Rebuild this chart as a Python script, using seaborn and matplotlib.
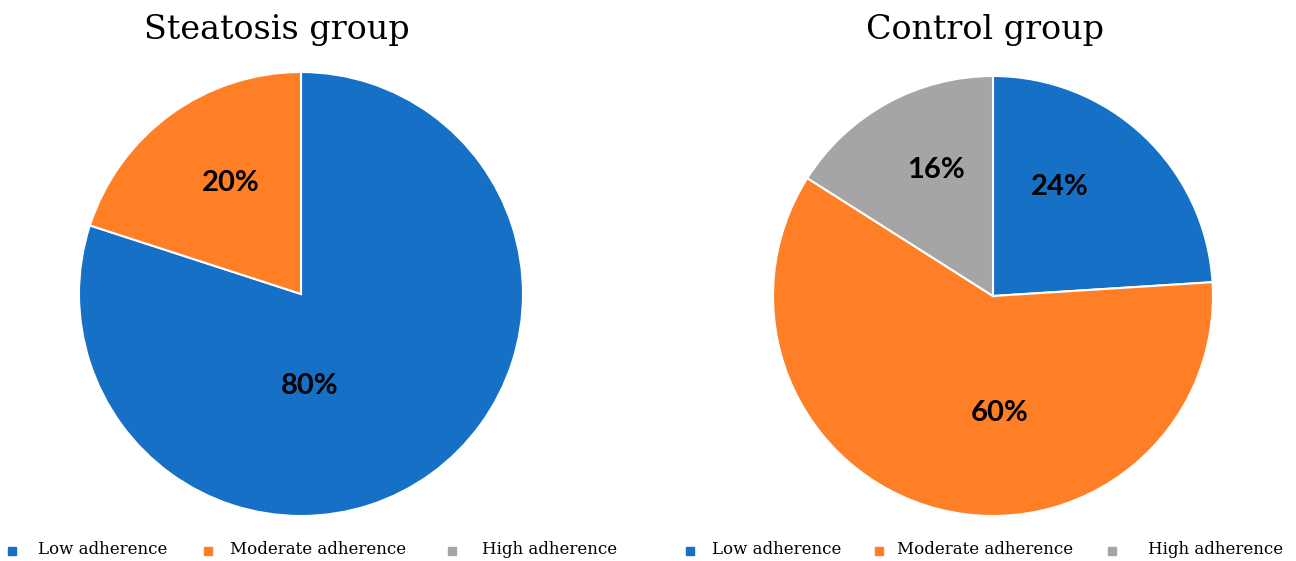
import matplotlib
matplotlib.use("Agg")
import matplotlib.pyplot as plt
import seaborn as sns
from matplotlib.lines import Line2D

sns.set_theme(style="white")

categories = ["Low adherence", "Moderate adherence", "High adherence"]
steatosis_pct = [80, 20, 0]
control_pct = [24, 60, 16]
colors = ["#1570C6", "#FF7F27", "#A5A5A5"]

fig = plt.figure(figsize=(12.96, 5.61), dpi=100)
W, H = 1296, 561


def pie_axes(cx, cy, r):
    return fig.add_axes([(cx - r) / W, (H - cy - r) / H, 2 * r / W, 2 * r / H])


def draw_pie(ax, values, label_pos, title, title_x):
    vals = [v for v in values if v > 0]
    cols = [c for v, c in zip(values, colors) if v > 0]
    wedges, _, autotexts = ax.pie(
        vals, colors=cols, startangle=90, counterclock=False, radius=1,
        autopct=lambda p: f"{p:.0f}%",
        wedgeprops=dict(edgecolor="white", linewidth=1.5),
        textprops=dict(fontsize=21, fontweight="bold", color="black", family="Lato"),
    )
    for t, (x, y) in zip(autotexts, label_pos):
        t.set_position((x, y))
    ax.set_xlim(-1.0, 1.0)
    ax.set_ylim(-1.0, 1.0)
    ax.axis("off")
    fig.text(title_x / W, 1 - 30 / H, title, ha="center", va="center",
             fontsize=24, family="DejaVu Serif", color="black")


ax1 = pie_axes(301, 294, 222)
draw_pie(ax1, steatosis_pct, [(0.041, -0.416), (-0.317, 0.498)], "Steatosis group", 277)

ax2 = pie_axes(993, 296, 220)
draw_pie(ax2, control_pct, [(0.305, 0.495), (0.032, -0.532), (-0.259, 0.573)], "Control group", 985)


def legend(marker_x, text_x):
    for mx, tx, c, name in zip(marker_x, text_x, colors, categories):
        fig.add_artist(Line2D([mx / W], [1 - 551 / H], transform=fig.transFigure,
                              marker="s", linestyle="none", markersize=5.5,
                              markerfacecolor=c, markeredgecolor=c))
        fig.text(tx / W, 1 - 549 / H, name, ha="left", va="center",
                 fontsize=12, family="DejaVu Serif", color="black")


legend([12, 208, 452], [38, 230, 482])
legend([690, 879, 1112], [712, 897, 1148])

fig.savefig("out.png", dpi=100, facecolor="white")
